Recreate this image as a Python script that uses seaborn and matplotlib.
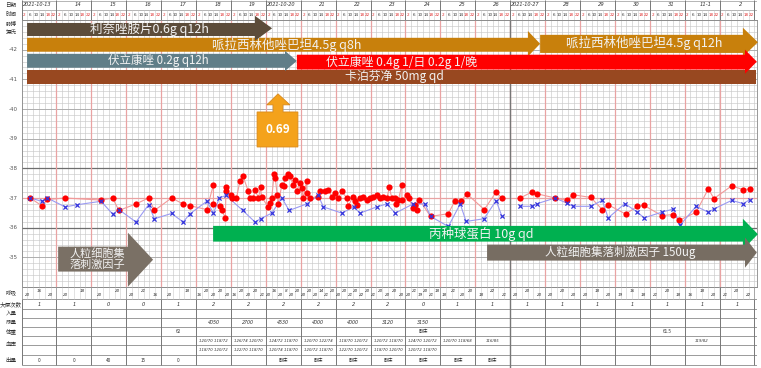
import numpy as np
import pandas as pd
import seaborn as sns
import matplotlib
matplotlib.use("Agg")
import matplotlib.pyplot as plt
from matplotlib.patches import Polygon
from matplotlib.transforms import blended_transform_factory

sns.set_theme(style="white")
plt.rcParams['font.family'] = ['Noto Sans CJK SC', 'DejaVu Sans']

# ---------------- data ----------------
dates = ["2021-10-13", "14", "15", "16", "17", "18", "19", "2021-10-20", "21", "22", "23",
         "24", "25", "26", "2021-10-27", "28", "29", "30", "31", "11-1", "2"]
hours = ["2", "6", "10", "14", "18", "22"]

blue_day = [0.25, 0.58, 0.74, 1.25, 1.58, 2.28, 2.61, 2.79, 3.28, 3.64, 3.81, 4.30, 4.63, 4.83,
            5.31, 5.50, 5.67, 5.86, 6.34, 6.69, 6.85, 7.17, 7.46, 7.67, 8.17, 8.50, 8.65, 9.18,
            9.52, 9.70, 10.18, 10.47, 10.71, 11.22, 11.56, 11.72, 12.23, 12.57, 12.74, 13.25,
            13.60, 13.76,
            14.29, 14.62, 14.78, 15.29, 15.62, 15.80, 16.31, 16.64, 16.81, 17.29, 17.65, 17.84,
            18.34, 18.68, 18.87, 19.33, 19.68, 19.84, 20.35, 20.68, 20.86]
blue_val = [37.00, 36.89, 37.00, 36.70, 36.77, 36.89, 36.46, 36.61, 36.19, 36.77, 36.30, 36.48,
            36.19, 36.47, 36.89, 36.49, 37.00, 37.09, 36.58, 36.19, 36.30, 36.49, 37.00, 36.58,
            36.80, 37.09, 36.70, 36.49, 36.70, 36.49, 36.70, 36.80, 36.49, 36.80, 36.80, 36.38,
            36.04, 36.80, 36.21, 36.30, 36.91, 36.40,
            36.72, 36.72, 36.81, 37.00, 36.83, 36.72, 36.72, 36.92, 36.33, 36.81, 36.52, 36.33,
            36.52, 36.63, 36.08, 36.72, 36.52, 36.63, 36.92, 36.81, 36.94]

red_day = [0.25, 0.58, 0.74, 1.25, 2.28, 2.61, 2.79, 3.28, 3.64, 3.81, 4.30, 4.63, 4.83, 5.31,
           5.50, 5.50, 5.69, 5.74, 5.84, 5.86, 5.86, 6.00, 6.02, 6.16, 6.26, 6.35, 6.50, 6.55,
           6.64, 6.69, 6.79, 6.85, 6.88, 7.07, 7.12, 7.17, 7.24, 7.27, 7.33, 7.36, 7.46, 7.51,
           7.56, 7.65, 7.69, 7.78, 7.83, 7.88, 7.98, 8.03, 8.07, 8.17, 8.17, 8.27, 8.50, 8.55,
           8.70, 8.79, 8.89, 8.99, 9.08, 9.18, 9.32, 9.36, 9.50, 9.55, 9.60, 9.70, 9.79, 9.89,
           9.98, 10.08, 10.18, 10.27, 10.37, 10.47, 10.54, 10.61, 10.71, 10.73, 10.80, 10.90,
           10.90, 11.04, 11.09, 11.22, 11.27, 11.34, 11.40, 11.72, 12.23, 12.42, 12.60, 12.76,
           13.26, 13.60, 13.76,
           14.29, 14.62, 14.78, 15.29, 15.62, 15.80, 16.31, 16.64, 16.81, 17.31, 17.65, 17.84,
           18.34, 18.68, 18.85, 19.33, 19.68, 19.84, 20.35, 20.68, 20.86]
red_val = [37.00, 36.74, 36.95, 37.00, 36.93, 37.00, 36.58, 36.80, 37.00, 36.58, 37.00, 36.80,
           36.74, 36.61,
           37.45, 36.80, 36.74, 36.58, 36.33, 37.36, 37.22, 37.09, 37.00, 37.00, 37.58, 37.73,
           37.22, 37.00, 37.00, 37.28, 37.00, 37.36, 37.05, 36.68, 36.83, 37.00, 37.81, 37.67,
           37.09, 36.80, 37.45, 37.42, 37.67, 37.81, 37.73, 37.45, 37.62, 37.22, 37.51, 37.34,
           37.00, 37.58, 37.17, 37.00, 37.05, 37.22, 37.25, 37.28, 37.05, 37.17, 37.00, 37.22,
           37.00, 36.72, 37.05, 36.89, 36.77, 37.00, 37.05, 36.94, 37.00, 37.05, 37.09, 37.00,
           37.05, 37.00, 37.36, 37.00, 37.00, 36.80, 36.94, 37.45, 36.94, 37.09, 37.00, 36.66,
           36.77, 36.61, 36.94, 36.38, 36.47, 36.91, 36.91, 37.14, 36.61, 37.20, 37.00,
           37.00, 37.20, 37.14, 37.00, 36.92, 37.11, 37.02, 36.61, 36.77, 36.46, 36.72, 36.75,
           36.41, 36.44, 36.25, 36.52, 37.31, 36.98, 37.41, 37.28, 37.31]

# medication bars: label, start day, end day
med_names = ["利奈唑胺片0.6g q12h", "哌拉西林他唑巴坦4.5g q8h", "哌拉西林他唑巴坦4.5g q12h",
             "伏立康唑 0.2g q12h", "卡泊芬净 50mg qd", "伏立康唑 0.4g 1/日 0.2g 1/晚",
             "丙种球蛋白 10g qd", "人粒细胞集落刺激因子 150ug", "人粒细胞集\n落刺激因子"]
med_start = [0.16, 0.16, 14.86, 0.16, 0.16, 7.89, 5.49, 13.34, 1.05]
med_end = [7.18, 14.86, 21.10, 7.89, 21.04, 21.07, 21.10, 21.07, 3.77]
callout_day = 7.35
callout_text = "0.69"

resp = ["20 16 20", "20 18", "20 20", "20 21 16", "20 18", "16 20 20 20 20", "16 20 20 20 21",
        "20 16 20 8 20 20", "20 20 20 14 21 20", "20 20 21 20 22 20", "21 20 20 20 20",
        "20 21 19 20 21 18", "18 21 20 20", "18 22 21",
        "20 20 20", "20 20 20", "20 18 20", "19 16 18", "21 20 18", "16 18 20", "21 20 22"]
bowel = ["1", "1", "0", "0", "1", "2", "2", "2", "2", "2", "2", "0", "1", "1",
         "1", "1", "1", "1", "1", "1", "1"]
urine = ["", "", "", "", "", "4050", "2700", "4530", "4000", "4000", "3120", "3150", "", "",
         "", "", "", "", "", "", ""]
weight = ["", "", "", "", "62", "", "", "", "", "", "", "卧床", "", "",
          "", "", "", "", "61.5", "", ""]
bp1 = ["", "", "", "", "", "120/70 118/72", "126/74 120/70", "124/72 118/70", "120/70 122/74",
       "118/70 120/72", "120/72 118/70", "124/70 120/72", "120/70 118/68", "116/85",
       "", "", "", "", "", "119/82", ""]
bp2 = ["", "", "", "", "", "118/70 120/72", "122/70 118/70", "120/74 118/70", "120/72 118/70",
       "122/70 120/72", "118/70 120/70", "120/72 118/70", "", "",
       "", "", "", "", "", "", ""]
outv = ["0", "0", "40", "15", "0", "", "", "卧床", "卧床", "卧床", "卧床", "卧床", "卧床", "卧床",
        "", "", "", "", "", "", ""]
y_ticks = [42, 41, 40, 39, 38, 37, 36, 35]
header_labels = ["日期", "时间", "脉搏", "摄氏"]
table_labels = ["呼吸", "大便次数", "入量", "尿量", "体重", "血压", "出量"]

# ---------------- layout ----------------
W, H = 761, 368
X0, DAYW = 21.5, 34.9
XMAX = (757 - X0) / DAYW
NDAYS = 21


def fx(px):
    return px / W


def fy(py):
    return 1 - py / H


fig = plt.figure(figsize=(W / 100, H / 100), dpi=100)
fig.patch.set_facecolor("white")
ax = fig.add_axes([fx(X0), fy(287), fx(757) - fx(X0), fy(20) - fy(287)])
ax.set_xlim(0, XMAX)
ax.set_ylim(34, 43)
ax.set_facecolor("white")
for s in ax.spines.values():
    s.set_color("#888888")
    s.set_linewidth(0.6)
ax.set_xticks([])
ax.set_yticks([])

# grid
minor_c, red_c = "#c9c9c9", "#e9a3a3"
for panel_lo, panel_hi in [(0, 14), (14, XMAX)]:
    xs = np.arange(panel_lo, panel_hi + 1e-6, 1 / 6)
    ax.vlines(xs, 34, 43, color=minor_c, lw=0.45, zorder=0)
for t in np.arange(34, 43.001, 0.2):
    ax.axhline(t, color=minor_c, lw=0.45, zorder=0)
for t in range(34, 44):
    ax.axhline(t, color="#a8a8a8", lw=0.6, zorder=0.5)
for t in [38, 36]:
    ax.axhline(t, color="#6e6e6e", lw=0.9, zorder=0.6)
ax.axhline(37, color=red_c, lw=0.9, zorder=0.7)
ax.vlines(np.arange(1, NDAYS), 34, 43, color=red_c, lw=0.9, zorder=0.7)
ax.axvline(14, color="#777777", lw=1.0, zorder=0.8)

# y labels
tr = blended_transform_factory(fig.transFigure, ax.transData)
for t in y_ticks:
    ax.text(fx(13), t, f"-{t}", transform=tr, ha="center", va="center", fontsize=4,
            color="#555555", family="DejaVu Sans")

# data
df_b = pd.DataFrame({"day": blue_day, "val": blue_val})
df_r = pd.DataFrame({"day": red_day, "val": red_val})
for df, lc in [(df_r, "#f29a9a"), (df_b, "#9a9af2")]:
    df["panel"] = np.where(df["day"] < 14, 0, 1)
    for _, g in df.groupby("panel"):
        sns.lineplot(data=g, x="day", y="val", ax=ax, color=lc, lw=0.8, sort=False,
                     estimator=None, errorbar=None, legend=False, zorder=3)
sns.scatterplot(data=df_r, x="day", y="val", ax=ax, color="#ff0000", s=20, linewidth=0,
                marker="o", legend=False, zorder=4)
sns.scatterplot(data=df_b, x="day", y="val", ax=ax, color="#3434dc", s=9, linewidth=0.9,
                marker="x", legend=False, zorder=4)
ax.set_xlabel("")
ax.set_ylabel("")
ax.set_xlim(0, XMAX)
ax.set_ylim(34, 43)


def arrow(x0, x1, yb, yt, head_len, hb, ht, color, z):
    if head_len <= 0:
        pts = [(x0, yb), (x1, yb), (x1, yt), (x0, yt)]
    else:
        xh = x1 - head_len
        ym = (hb + ht) / 2
        pts = [(x0, yb), (xh, yb), (xh, hb), (x1, ym), (xh, ht), (xh, yt), (x0, yt)]
    ax.add_patch(Polygon(pts, closed=True, fc=color, ec="none", zorder=z, clip_on=False))


# style per med: (body bottom, body top, head length, head bottom, head top, color, zorder,
#                 text x, text y, fontsize)
med_style = [
    (42.46, 42.90, 0.49, 42.30, 43.14, "#5c4c3a", 7, 3.68, 42.68, 9),
    (41.93, 42.40, 0.35, 41.77, 42.63, "#c8800c", 6, 7.61, 42.16, 9),
    (41.89, 42.50, 0.43, 41.76, 42.74, "#c8800c", 6, 17.84, 42.22, 9),
    (41.39, 41.86, 0.34, 41.28, 41.96, "#607e88", 6.5, 3.91, 41.62, 8.3),
    (40.85, 41.33, 0.0, 0, 0, "#984820", 6.2, 10.70, 41.08, 8.6),
    (41.33, 41.83, 0.34, 41.19, 42.00, "#ff0000", 6.6, 10.90, 41.58, 8.6),
    (35.53, 36.06, 0.43, 35.26, 36.30, "#00b050", 6, 13.17, 35.80, 9),
    (34.89, 35.43, 0.34, 34.65, 35.67, "#776d62", 6, 17.15, 35.16, 8.3),
    (34.52, 35.36, 0.72, 34.01, 35.83, "#7a7065", 6, 2.17, 34.94, 8),
]
for name, st, en, sty in zip(med_names, med_start, med_end, med_style):
    yb, yt, hl, hb, ht, col, z, tx, ty, fs = sty
    arrow(st, en, yb, yt, hl, hb, ht, col, z)
    ax.text(tx, ty, name, ha="center", va="center", fontsize=fs, color="#f2f2f2",
            zorder=z + 0.05, linespacing=1.05, clip_on=False)

# 0.69 callout
c = callout_day
cpts = [(c - 0.60, 38.72), (c + 0.57, 38.72), (c + 0.57, 39.90), (c + 0.14, 39.90),
        (c + 0.14, 40.14), (c + 0.34, 40.14), (c, 40.51), (c - 0.32, 40.14), (c - 0.14, 40.14),
        (c - 0.14, 39.90), (c - 0.60, 39.90)]
ax.add_patch(Polygon(cpts, closed=True, fc="#f4a21b", ec="#d9891a", lw=0.6, zorder=8))
ax.text(c, 39.30, callout_text, ha="center", va="center", fontsize=8.5, color="white",
        fontweight="bold", zorder=9)

# ---------------- header ----------------
axh = fig.add_axes([fx(X0), fy(20), fx(757) - fx(X0), 20 / H])
axh.set_xlim(0, XMAX)
axh.set_ylim(20, 0)
axh.axis("off")
axh.hlines([0.5, 10, 19.8], 0, XMAX, color="#999999", lw=0.5)
for panel_lo, panel_hi in [(0, 14), (14, XMAX)]:
    xs = np.arange(panel_lo, panel_hi + 1e-6, 1 / 6)
    axh.vlines(xs, 10, 20, color="#cccccc", lw=0.4)
axh.vlines(np.arange(0, NDAYS + 1), 0, 20, color="#777777", lw=0.7)
for k, d in enumerate(dates):
    if d.startswith("2021"):
        axh.text(k + 0.03, 5, d, ha="left", va="center", fontsize=3.6, style="italic",
                 color="#333333", family="DejaVu Sans")
    else:
        axh.text(k + 0.62, 5, d, ha="center", va="center", fontsize=3.8, style="italic",
                 color="#333333", family="DejaVu Sans")
    for j, h in enumerate(hours):
        col = "#e03030" if j in (0, 4, 5) else "#333333"
        axh.text(k + (j + 0.5) / 6, 15, h, ha="center", va="center", fontsize=3.0, color=col,
                 family="DejaVu Sans")

for lab, py in zip(header_labels, [5, 15, 24, 32]):
    fig.text(fx(11), fy(py), lab, ha="center", va="center", fontsize=4, color="#333333")

# ---------------- table ----------------
axt = fig.add_axes([fx(X0), fy(368), fx(757) - fx(X0), 81 / H])
axt.set_xlim(0, XMAX)
axt.set_ylim(368, 287)
axt.axis("off")
row_lines = [287, 299, 309, 318, 327, 336, 345, 355, 365]
axt.hlines(row_lines, 0, XMAX, color="#8a8a8a", lw=0.6)
axt.vlines(np.arange(0, NDAYS + 1), 287, 365, color="#777777", lw=0.7)
for panel_lo, panel_hi in [(0, 14), (14, XMAX)]:
    xs = np.arange(panel_lo, panel_hi + 1e-6, 1 / 6)
    axt.vlines(xs, 287, 299, color="#cccccc", lw=0.4)
axt.vlines([14], 0, 368, color="#777777", lw=1.0)

tkw = dict(ha="center", va="center", style="italic", color="#333333")
for k in range(NDAYS):
    vals = resp[k].split()
    n = len(vals)
    for i, v in enumerate(vals):
        axt.text(k + (i + 0.5) / n, 291 if i % 2 else 295.5, v, fontsize=3.0,
                 family="DejaVu Sans", **tkw)
    axt.text(k + 0.5, 304, bowel[k], fontsize=3.6, family="DejaVu Sans", **tkw)
    if urine[k]:
        axt.text(k + 0.5, 322.5, urine[k], fontsize=3.4, family="DejaVu Sans", **tkw)
    if weight[k]:
        axt.text(k + 0.5, 331.5, weight[k], fontsize=3.4, **tkw)
    if bp1[k]:
        axt.text(k + 0.5, 340.5, bp1[k], fontsize=2.8, family="DejaVu Sans", **tkw)
    if bp2[k]:
        axt.text(k + 0.5, 350, bp2[k], fontsize=2.8, family="DejaVu Sans", **tkw)
    if outv[k]:
        axt.text(k + 0.5, 360, outv[k], fontsize=3.4, **tkw)

for lab, py in zip(table_labels, [293, 304, 313.5, 322.5, 331.5, 345, 360]):
    fig.text(fx(11), fy(py), lab, ha="center", va="center", fontsize=4, color="#333333")

fig.savefig("out.png", dpi=100, facecolor="white")
